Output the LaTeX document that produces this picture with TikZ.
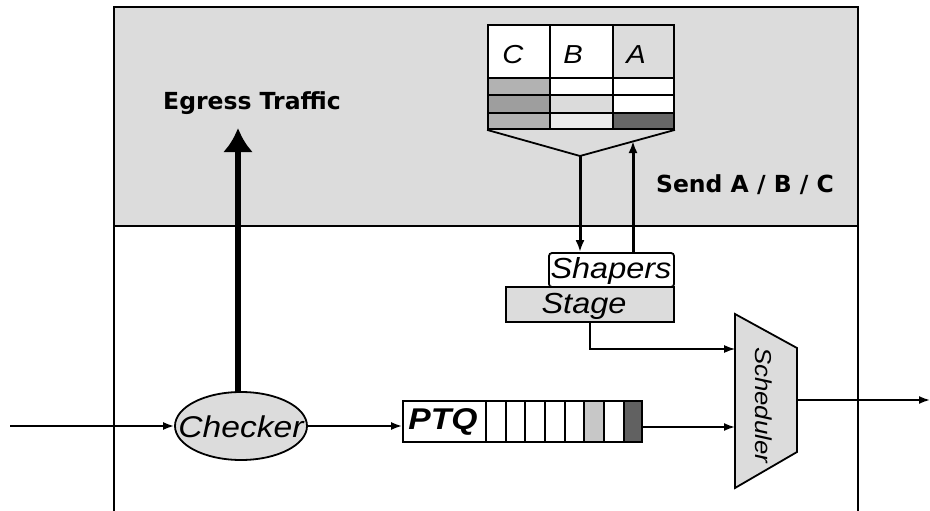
\documentclass[tikz,border=0pt]{standalone}
\usepackage{fontspec}
\setmainfont{Liberation Sans}
\newfontfamily\labfont[FakeStretch=1.12]{Liberation Sans}
\newfontfamily\boldlab{DejaVu Sans}
\usetikzlibrary{arrows.meta,shapes.geometric}
\definecolor{bgdot}{HTML}{DCDCDC}
\begin{document}
\begin{tikzpicture}[x=1pt,y=-1pt,
  lab/.style={font=\labfont\itshape\fontsize{29}{29}\selectfont, inner sep=0pt},
  hdr/.style={font=\labfont\itshape\fontsize{26}{26}\selectfont, inner sep=0pt},
  blab/.style={font=\boldlab\bfseries\fontsize{23.5}{23.5}\selectfont, inner sep=0pt},
  conn/.style={line width=1.8pt,-{Latex[length=11pt,width=8pt]}},
  thinconn/.style={line width=1.2pt,-{Latex[length=11pt,width=8pt]}},
  thickconn/.style={line width=3pt,-{Latex[length=12pt,width=9pt]}},
  egress/.style={line width=5.5pt,-{Latex[length=24pt,width=30pt]}},
  box/.style={draw, line width=1.8pt, inner sep=0pt}]
\useasboundingbox (0,0) rectangle (930,511);
% background regions
\fill[white] (0,0) rectangle (930,511);
\draw[line width=2.2pt, fill=bgdot] (114,7) rectangle (858,226);
\draw[line width=1.8pt] (114,226) -- (114,511);
\draw[line width=1.8pt] (858,226) -- (858,511);

% table
\fill[white] (488,25) rectangle (613,129);
\fill[white] (613,78) rectangle (674,113);
\fill[bgdot] (613,25) rectangle (674,78);
\fill[black!30] (488,78) rectangle (550,95);
\fill[black!38] (488,95) rectangle (550,113);
\fill[black!30] (488,113) rectangle (550,129);
\fill[black!14] (550,95) rectangle (613,113);
\fill[black!8] (550,113) rectangle (613,129);
\fill[black!60] (613,113) rectangle (674,129);
\node[box, minimum width=186pt, minimum height=104pt] (tbl) at (581,77) {};
\draw[line width=1.8pt] (550,25) -- (550,129) (613,25) -- (613,129);
\draw[line width=1.8pt] (488,78) -- (674,78) (488,95) -- (674,95) (488,113) -- (674,113);
\node[hdr] (hc) at (513,55) {C};
\node[hdr] (hb) at (573,55) {B};
\node[hdr] (ha) at (636,55) {A};
\coordinate (fv) at (580,156);
\draw[line width=1.8pt] (tbl.south west) -- (fv) -- (tbl.south east);

% labels
\node[blab] (egl) at (252,103) {Egress Traffic};
\node[blab] (sendl) at (745,185) {Send A / B / C};

% shapers and stage
\node[box, fill=bgdot, minimum width=168pt, minimum height=35pt] (stage) at (590,304.5) {};
\node[lab, anchor=center] (stagel) at (584,306) {Stage};
\node[box, fill=white, rounded corners=3pt, minimum width=125pt, minimum height=34pt] (shapers) at (611.5,270) {};
\node[lab] (shapersl) at (611,271) {Shapers};

\draw[thickconn] (fv) -- (fv |- shapers.north);
\coordinate (upend) at (633,141);
\draw[thickconn] (upend |- shapers.north) -- (upend);

% checker
\node[draw, line width=1.8pt, ellipse, fill=bgdot, minimum width=132pt, minimum height=68pt, inner sep=0pt] (checker) at (241,426) {};
\node[lab, font=\labfont\itshape\fontsize{30}{30}\selectfont] (checkerl) at (241,427) {Checker};
\coordinate (inp) at (10,426);
\draw[conn] (inp) -- (checker.west);
\coordinate (egtop) at (238,128);
\draw[egress] (checker.north -| egtop) -- (egtop);

% PTQ
\node[box, fill=white, minimum width=239pt, minimum height=41pt] (ptq) at (522.5,421.5) {};
\fill[black!22] (584,401) rectangle (604,442);
\fill[black!62] (624,401) rectangle (642,442);
\foreach \xx in {486,506,525,545,565,584,604,624} \draw[line width=1.8pt] (\xx,401) -- (\xx,442);
\node[box, minimum width=239pt, minimum height=41pt] (ptqframe) at (522.5,421.5) {};
\node[font=\labfont\bfseries\itshape\fontsize{30}{30}\selectfont, inner sep=0pt] (ptql) at (443,422) {PTQ};
\draw[conn] (checker.east) -- (checker.east -| ptq.west);

% scheduler
\draw[line width=1.8pt, fill=bgdot] (735,314) -- (797,348) -- (797,452) -- (735,488) -- cycle;
\node[font=\labfont\itshape\fontsize{23}{23}\selectfont, inner sep=0pt, rotate=-90] (sched) at (764,405) {Scheduler};
\coordinate (sin1) at (735,349);
\coordinate (sin2) at (735,427);
\coordinate (sout) at (797,400);
\coordinate (outp) at (930,400);
\draw[conn] (ptq.east |- sin2) -- (sin2);
\draw[thinconn] (stage.south -| 590,0) -- (590,349) -- (sin1);
\draw[conn] (sout) -- (outp);
\end{tikzpicture}
\end{document}
